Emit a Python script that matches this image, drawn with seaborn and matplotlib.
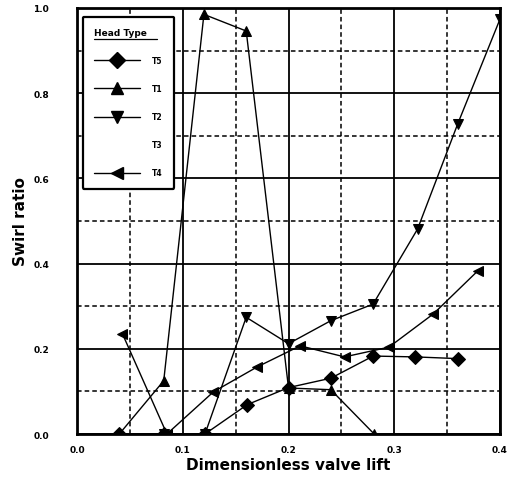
import numpy as np
import pandas as pd
import seaborn as sns
import matplotlib.pyplot as plt
from matplotlib.lines import Line2D
from matplotlib.ticker import MultipleLocator

# series
t5_x = [0.04, 0.082, 0.121, 0.161, 0.200, 0.240, 0.280, 0.320, 0.360]
t5_y = [0.0, 0.0, 0.0, 0.069, 0.109, 0.131, 0.183, 0.181, 0.177]

t1_x = [0.04, 0.082, 0.120, 0.160, 0.200, 0.240, 0.281]
t1_y = [0.0, 0.125, 0.985, 0.946, 0.108, 0.104, 0.0]

t2_x = [0.082, 0.121, 0.160, 0.200, 0.240, 0.280, 0.322, 0.360, 0.400]
t2_y = [0.0, 0.0, 0.274, 0.212, 0.266, 0.305, 0.481, 0.728, 0.974]

t4_x = [0.043, 0.085, 0.129, 0.170, 0.211, 0.253, 0.295, 0.337, 0.379]
t4_y = [0.235, 0.0, 0.099, 0.157, 0.207, 0.181, 0.204, 0.282, 0.383]

head_types = ["T5", "T1", "T2", "T3", "T4"]
markers = {"T5": "D", "T1": "^", "T2": "v", "T4": "<"}

frames = []
for name, xs, ys in [("T5", t5_x, t5_y), ("T1", t1_x, t1_y),
                     ("T2", t2_x, t2_y), ("T4", t4_x, t4_y)]:
    frames.append(pd.DataFrame({"lift": xs, "swirl": ys, "Head Type": name}))
df = pd.concat(frames, ignore_index=True)

sns.set_style("white")
plt.rcParams["text.color"] = "black"
plt.rcParams["axes.labelcolor"] = "black"
plt.rcParams["xtick.color"] = "black"
plt.rcParams["ytick.color"] = "black"

fig = plt.figure(figsize=(5.08, 4.81), dpi=100)
ax = fig.add_axes([0.1516, 0.0956, 0.8327, 0.8857])

sns.lineplot(data=df, x="lift", y="swirl", hue="Head Type", style="Head Type",
             markers=markers, dashes=False, palette={k: "black" for k in markers},
             estimator=None, sort=False, linewidth=1.0, markersize=7.5,
             markeredgecolor="black", ax=ax, legend=False, zorder=3)

ax.set_xlim(0, 0.4)
ax.set_ylim(0, 1.0)
ax.xaxis.set_major_locator(MultipleLocator(0.1))
ax.xaxis.set_minor_locator(MultipleLocator(0.05))
ax.yaxis.set_major_locator(MultipleLocator(0.2))
ax.yaxis.set_minor_locator(MultipleLocator(0.1))
ax.grid(which="major", color="black", linestyle="-", linewidth=1.3)
ax.grid(which="minor", color="black", linestyle=(0, (3, 2)), linewidth=1.1)
ax.set_axisbelow(True)
for s in ax.spines.values():
    s.set_linewidth(2)
    s.set_color("black")
ax.tick_params(axis="y", which="both", length=0, pad=20)
ax.tick_params(axis="x", which="both", length=0, pad=8)

tick_font = dict(family=["Liberation Sans Narrow", "DejaVu Sans"], weight="bold", size=6.5)
ax.set_xticks([0.0, 0.1, 0.2, 0.3, 0.4])
ax.set_xticklabels(["0.0", "0.1", "0.2", "0.3", "0.4"], **tick_font)
ax.set_yticks([0.0, 0.2, 0.4, 0.6, 0.8, 1.0])
ax.set_yticklabels(["0.0", "0.2", "0.4", "0.6", "0.8", "1.0"], **tick_font)

ax.set_xlabel("Dimensionless valve lift", fontsize=11, fontweight="bold", labelpad=2)
ax.set_ylabel("Swirl ratio", fontsize=11, fontweight="bold", labelpad=4)

handles = []
for name in head_types:
    if name in markers:
        handles.append(Line2D([], [], color="black", linewidth=1.0,
                              marker=markers[name], markersize=8.5))
    else:
        handles.append(Line2D([], [], color="none", linewidth=0))
leg = ax.legend(handles, head_types, title="Head Type", loc="upper left",
                bbox_to_anchor=(0.013, 0.98), frameon=True, fancybox=True,
                handlelength=6.0, labelspacing=2.5, borderpad=1.5,
                handletextpad=1.6, borderaxespad=0,
                prop=dict(family=["Liberation Sans Narrow", "DejaVu Sans"],
                          weight="bold", size=5.5),
                title_fontproperties=dict(weight="bold", size=6.5))
leg.get_frame().set_edgecolor("black")
leg.get_frame().set_linewidth(1.6)
leg.get_frame().set_facecolor("white")
leg.get_frame().set_alpha(1)
leg.set_zorder(5)
leg._legend_box.align = "left"

fig.canvas.draw()
tb = leg.get_title().get_window_extent()
inv = ax.transAxes.inverted()
(x0, y0), (x1, y1) = inv.transform([[tb.x0, tb.y0], [tb.x1 + 10, tb.y0]])
ax.add_line(Line2D([x0, x1], [y0 - 0.004, y1 - 0.004], color="black",
                   linewidth=0.9, transform=ax.transAxes, zorder=6))

fig.savefig("out.png", dpi=100)
